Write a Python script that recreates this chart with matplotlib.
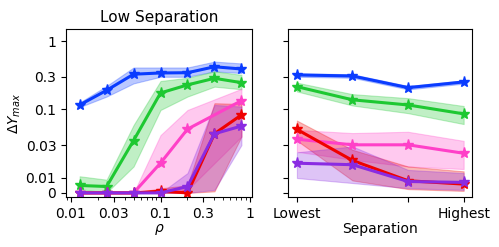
import numpy as np
import matplotlib
matplotlib.use("Agg")
import matplotlib.pyplot as plt
from matplotlib.ticker import NullLocator, FixedLocator

# left panel: delta Y_max vs rho (low separation)
rho = [0.0125, 0.025, 0.05, 0.1, 0.2, 0.4, 0.8]
rho_pink = [0.0125, 0.025, 0.05, 0.1, 0.2, 0.8]

low_blue = [0.116, 0.19, 0.327, 0.341, 0.344, 0.42, 0.39]
low_blue_lo = [0.108, 0.154, 0.24, 0.30, 0.30, 0.36, 0.34]
low_blue_hi = [0.126, 0.22, 0.41, 0.41, 0.41, 0.50, 0.47]

low_green = [0.0049, 0.0042, 0.035, 0.174, 0.228, 0.285, 0.246]
low_green_lo = [0.0025, 0.0002, 0.0146, 0.098, 0.154, 0.215, 0.197]
low_green_hi = [0.0105, 0.0087, 0.059, 0.26, 0.29, 0.36, 0.32]

low_pink = [0.0, 0.0, 0.0, 0.0164, 0.0514, 0.134]
low_pink_lo = [0.0, 0.0, 0.0, 0.0, 0.002, 0.04]
low_pink_hi = [0.0, 0.0, 0.0, 0.042, 0.098, 0.20]

low_red = [0.0, 0.0, 0.0, 0.0011, 0.0, 0.044, 0.083]
low_red_lo = [0.0, 0.0, 0.0, 0.0, 0.0, 0.001, 0.04]
low_red_hi = [0.0, 0.0, 0.0, 0.003, 0.005, 0.123, 0.12]

low_purple = [0.0, 0.0, 0.0, 0.0, 0.0042, 0.044, 0.057]
low_purple_lo = [0.0, 0.0, 0.0, 0.0, 0.0, 0.002, 0.03]
low_purple_hi = [0.0, 0.0, 0.0, 0.0, 0.0117, 0.116, 0.11]

# right panel: delta Y_max vs separation level
sep = [0, 1, 2, 3]
sep_labels = ["Lowest", "", "", "Highest"]

sep_blue = [0.319, 0.308, 0.208, 0.252]
sep_blue_lo = [0.30, 0.29, 0.196, 0.238]
sep_blue_hi = [0.338, 0.326, 0.22, 0.266]

sep_green = [0.215, 0.138, 0.116, 0.086]
sep_green_lo = [0.183, 0.114, 0.088, 0.061]
sep_green_hi = [0.246, 0.167, 0.146, 0.112]

sep_pink = [0.0366, 0.0303, 0.0303, 0.0228]
sep_pink_lo = [0.024, 0.0183, 0.0146, 0.0134]
sep_pink_hi = [0.050, 0.045, 0.047, 0.0346]

sep_red = [0.051, 0.0179, 0.008, 0.0058]
sep_red_lo = [0.035, 0.0082, 0.0025, 0.0013]
sep_red_hi = [0.0685, 0.0256, 0.0146, 0.0124]

sep_purple = [0.0163, 0.0155, 0.0075, 0.0069]
sep_purple_lo = [0.0098, 0.0065, 0.0031, 0.002]
sep_purple_hi = [0.0235, 0.0287, 0.013, 0.0117]

BLUE = "#0a3cff"
GREEN = "#1ec832"
PINK = "#ff40c8"
RED = "#f00000"
PURPLE = "#8a2be2"

yticks = [0, 0.01, 0.03, 0.1, 0.3, 1]
yticklabels = ["0", "0.01", "0.03", "0.1", "0.3", "1"]

plt.rcParams["font.size"] = 10

fig = plt.figure(figsize=(4.99, 2.47), dpi=100)
ax1 = fig.add_axes([66 / 499, 50 / 247, 186 / 499, 168 / 247])
ax2 = fig.add_axes([288 / 499, 50 / 247, 184 / 499, 168 / 247])


def draw(ax, x, y, lo, hi, color):
    ax.fill_between(x, lo, hi, color=color, alpha=0.28, lw=0.8)
    ax.plot(x, y, color=color, lw=2.2, marker="*", ms=8)


left = [
    (rho, low_blue, low_blue_lo, low_blue_hi, BLUE),
    (rho, low_green, low_green_lo, low_green_hi, GREEN),
    (rho_pink, low_pink, low_pink_lo, low_pink_hi, PINK),
    (rho, low_red, low_red_lo, low_red_hi, RED),
    (rho, low_purple, low_purple_lo, low_purple_hi, PURPLE),
]
right = [
    (sep, sep_blue, sep_blue_lo, sep_blue_hi, BLUE),
    (sep, sep_green, sep_green_lo, sep_green_hi, GREEN),
    (sep, sep_pink, sep_pink_lo, sep_pink_hi, PINK),
    (sep, sep_red, sep_red_lo, sep_red_hi, RED),
    (sep, sep_purple, sep_purple_lo, sep_purple_hi, PURPLE),
]
for args in left:
    draw(ax1, *args)
for args in right:
    draw(ax2, *args)

for ax in (ax1, ax2):
    ax.set_yscale("symlog", linthresh=0.01, linscale=0.2)
    ax.set_ylim(-0.0027, 1.5)
    ax.yaxis.set_major_locator(FixedLocator(yticks))
    ax.yaxis.set_minor_locator(NullLocator())

ax1.set_yticklabels(yticklabels)
ax2.set_yticklabels([])

ax1.set_xscale("log")
ax1.set_xlim(0.0088, 1.05)
ax1.set_xticks([0.01, 0.03, 0.1, 0.3, 1])
ax1.set_xticklabels(["0.01", "0.03", "0.1", "0.3", "1"])
ax1.set_xlabel(r"$\rho$", labelpad=1)
ax1.set_ylabel(r"$\Delta Y_{max}$", labelpad=2)
ax1.set_title("Low Separation", fontsize=11, pad=5)

ax2.set_xlim(-0.16, 3.15)
ax2.set_xticks(sep)
ax2.set_xticklabels(sep_labels)
ax2.set_xlabel("Separation", labelpad=1)

fig.savefig("out.png", dpi=100, facecolor="white")
